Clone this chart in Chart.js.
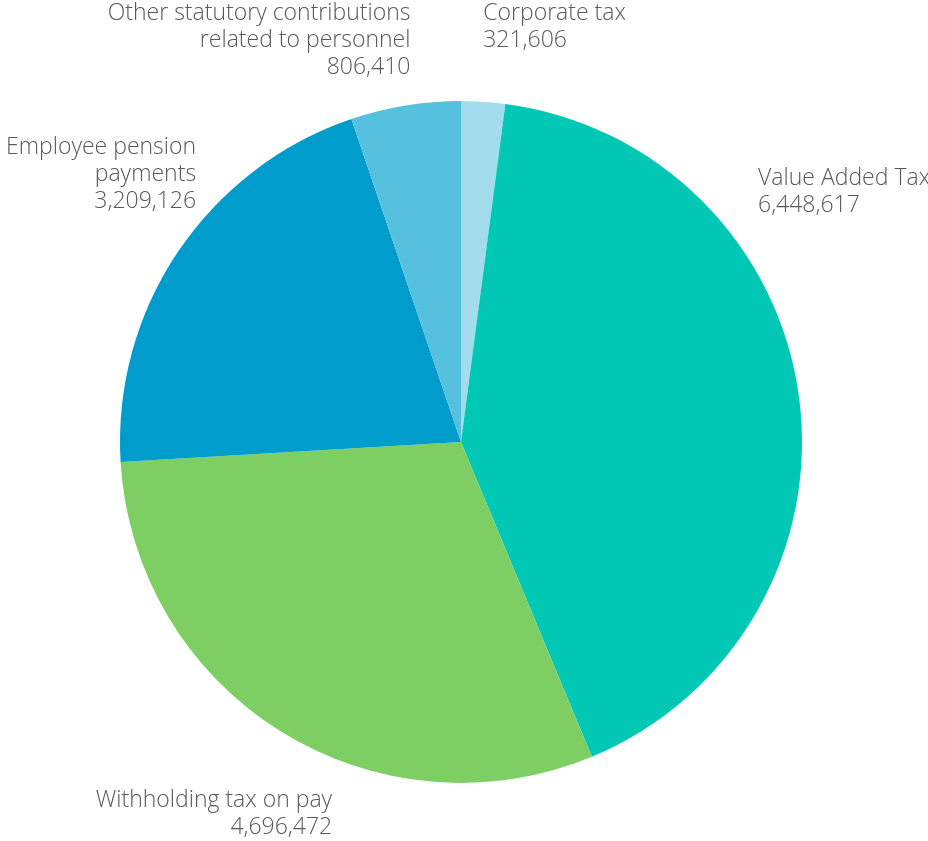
<!DOCTYPE html>
<html>
<head>
<meta charset="utf-8">
<script src="https://cdn.jsdelivr.net/npm/chart.js@4/dist/chart.umd.min.js"></script>
<style>
  html, body { margin: 0; padding: 0; background: #fff; }
  #wrap { width: 928px; height: 841px; }
</style>
</head>
<body>
<div id="wrap"><canvas id="taxChart" width="928" height="841"></canvas></div>
<script>
const categories = [
  ["Corporate tax"],
  ["Value Added Tax"],
  ["Withholding tax on pay"],
  ["Employee pension", "payments"],
  ["Other statutory contributions", "related to personnel"]
];
const amounts = [321606, 6448617, 4696472, 3209126, 806410];
const sliceColors = ["#a3dcec", "#00c8b4", "#7dcf63", "#009ccb", "#55c1de"];

// label placement (first line centre) relative to the outer midpoint of each slice
const labelPlace = [
  { dx: 0, dy: -88, align: "left" },
  { dx: -41, dy: -219, align: "left" },
  { dx: 52, dy: 69, align: "right" },
  { dx: 18, dy: -104, align: "right" },
  { dx: 5, dy: -92, align: "right" }
];

const fmt = n => n.toLocaleString("en-US");

const outsideLabels = {
  id: "outsideLabels",
  afterDraw(chart) {
    const ctx = chart.ctx;
    const meta = chart.getDatasetMeta(0);
    ctx.save();
    ctx.font = "300 23px 'Open Sans'";
    ctx.fillStyle = "#595959";
    ctx.textBaseline = "middle";
    meta.data.forEach((arc, i) => {
      const p = arc.getProps(["x", "y", "startAngle", "endAngle", "outerRadius"], true);
      const mid = (p.startAngle + p.endAngle) / 2;
      const ox = p.x + Math.cos(mid) * p.outerRadius;
      const oy = p.y + Math.sin(mid) * p.outerRadius;
      const pl = labelPlace[i];
      const lines = categories[i].concat([fmt(amounts[i])]);
      ctx.textAlign = pl.align;
      lines.forEach((t, k) => {
        ctx.fillText(t, ox + pl.dx, oy + pl.dy + k * 27);
      });
    });
    ctx.restore();
  }
};

new Chart(document.getElementById("taxChart"), {
  type: "pie",
  data: {
    labels: categories.map(c => c.join(" ")),
    datasets: [{
      data: amounts,
      backgroundColor: sliceColors,
      borderWidth: 0
    }]
  },
  options: {
    responsive: false,
    animation: false,
    layout: { padding: { top: 101, bottom: 58, left: 120, right: 126 } },
    plugins: {
      legend: { display: false },
      tooltip: { enabled: false }
    }
  },
  plugins: [outsideLabels]
});
</script>
</body>
</html>
